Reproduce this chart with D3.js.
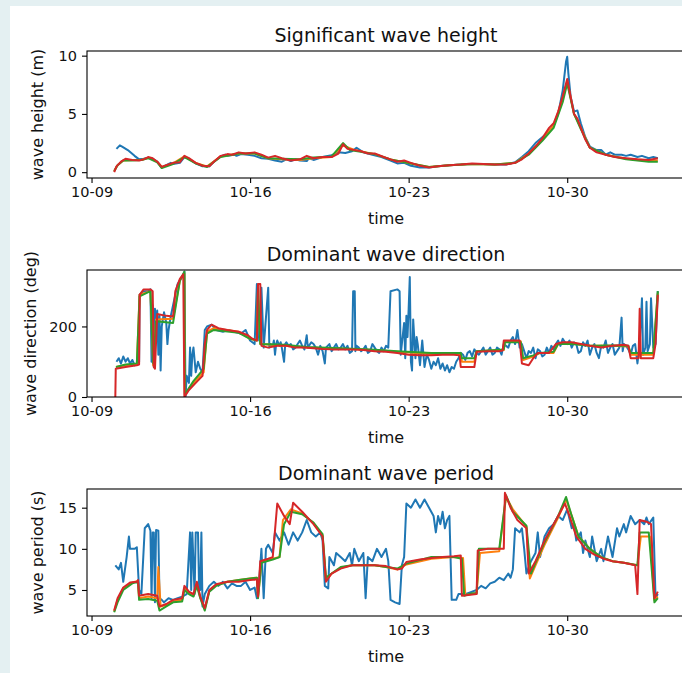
<!DOCTYPE html>
<html>
<head>
<meta charset="utf-8">
<script src="https://cdn.jsdelivr.net/npm/d3@7"></script>
<style>
  html, body { margin: 0; padding: 0; background: #e4f0f2; }
  #chart { position: absolute; left: 0; top: 0; }
  text { font-family: "DejaVu Sans", sans-serif; fill: #111; }
</style>
</head>
<body>
<div id="chart"></div>
<script>
// days since 10-10 00:00

// ---- significant wave height (m)
var heightBlue = [[0.1,2.0],[0.25,2.3],[0.35,2.2],[0.6,1.9],[0.9,1.4],[1.1,1.1],[1.3,1.15],[1.5,1.25],[1.7,1.15],[1.9,0.9],[2.1,0.4],[2.3,0.6],[2.5,0.8],[2.6,0.7],[2.9,0.8],[3.1,1.3],[3.3,1.15],[3.6,0.75],[3.9,0.5],[4.2,0.5],[4.4,0.9],[4.7,1.35],[4.9,1.5],[5.0,1.4],[5.3,1.5],[5.4,1.4],[5.6,1.55],[5.9,1.5],[6.2,1.4],[6.5,1.2],[6.8,1.15],[7.1,1.0],[7.4,0.9],[7.6,1.1],[7.8,0.95],[8.0,1.1],[8.2,1.0],[8.5,0.95],[8.6,1.2],[8.8,1.05],[9.2,1.3],[9.6,1.45],[9.9,1.7],[10.2,1.65],[10.5,1.8],[10.7,2.1],[11.0,1.7],[11.4,1.5],[11.8,1.3],[12.2,1.0],[12.5,0.75],[12.8,0.8],[13.1,0.55],[13.5,0.4],[13.9,0.4],[14.3,0.5],[14.8,0.6],[15.3,0.65],[15.8,0.7],[16.3,0.7],[16.8,0.65],[17.3,0.65],[17.7,0.85],[18.0,1.3],[18.3,1.8],[18.6,2.5],[18.9,3.0],[19.2,3.5],[19.4,4.0],[19.6,5.0],[19.8,7.0],[19.95,9.5],[20.0,9.9],[20.05,8.5],[20.15,6.5],[20.3,5.2],[20.45,5.3],[20.6,4.2],[20.8,3.0],[21.0,2.2],[21.3,1.9],[21.5,1.9],[21.7,1.5],[21.9,1.7],[22.1,1.5],[22.4,1.5],[22.6,1.4],[22.8,1.5],[23.1,1.3],[23.3,1.4],[23.6,1.2],[23.8,1.3],[24.0,1.2]];
var heightOrange = [[0,0.1],[0.15,0.6],[0.4,1.0],[0.8,1.05],[1.2,1.05],[1.5,1.25],[1.9,0.9],[2.1,0.45],[2.6,0.75],[3.1,1.35],[3.6,0.8],[4.1,0.5],[4.7,1.35],[5.5,1.6],[6.2,1.6],[6.8,1.2],[7.4,1.1],[8.2,1.05],[8.8,1.2],[9.6,1.3],[10.1,2.3],[10.6,1.9],[11.5,1.55],[12.2,1.1],[13.1,0.75],[13.9,0.45],[14.8,0.6],[15.8,0.7],[16.8,0.65],[17.7,0.8],[18.3,1.6],[18.9,2.8],[19.4,4.0],[19.8,6.3],[20.0,7.8],[20.3,5.0],[20.6,3.8],[21.0,2.1],[21.7,1.5],[22.6,1.15],[23.6,1.0],[24.0,1.0]];
var heightGreen = [[0,0.1],[0.15,0.6],[0.4,1.0],[0.8,1.0],[1.2,1.05],[1.5,1.2],[1.9,0.85],[2.1,0.35],[2.6,0.7],[3.1,1.3],[3.6,0.75],[4.1,0.45],[4.7,1.3],[5.5,1.6],[6.2,1.6],[6.8,1.2],[7.4,1.15],[8.2,1.1],[8.8,1.25],[9.6,1.35],[10.1,2.5],[10.4,1.9],[11.5,1.55],[12.2,1.1],[13.1,0.75],[13.9,0.45],[14.8,0.6],[15.8,0.7],[16.8,0.65],[17.7,0.8],[18.3,1.5],[18.9,2.7],[19.4,3.8],[19.8,6.0],[20.0,7.6],[20.3,5.0],[20.6,3.7],[21.0,2.1],[21.7,1.5],[22.6,1.1],[23.6,0.9],[24.0,0.9]];
var heightRed = [[0,0],[0.1,0.5],[0.3,0.9],[0.5,1.15],[0.8,1.05],[1.1,1.0],[1.3,1.1],[1.5,1.3],[1.7,1.2],[1.9,0.9],[2.1,0.45],[2.3,0.6],[2.6,0.8],[2.9,0.85],[3.1,1.4],[3.3,1.2],[3.6,0.8],[3.9,0.55],[4.2,0.5],[4.4,0.9],[4.7,1.4],[5.0,1.55],[5.2,1.5],[5.5,1.7],[5.8,1.6],[6.2,1.7],[6.5,1.5],[6.8,1.25],[7.1,1.4],[7.4,1.2],[7.8,1.0],[8.2,1.1],[8.5,1.4],[8.8,1.2],[9.2,1.3],[9.6,1.3],[9.9,1.6],[10.1,2.4],[10.3,2.0],[10.6,1.9],[10.9,1.8],[11.2,1.6],[11.5,1.6],[11.9,1.3],[12.2,1.1],[12.5,0.9],[12.8,1.0],[13.1,0.8],[13.5,0.55],[13.9,0.4],[14.3,0.5],[14.8,0.6],[15.3,0.65],[15.8,0.75],[16.3,0.7],[16.8,0.65],[17.3,0.65],[17.7,0.8],[18.0,1.1],[18.3,1.6],[18.6,2.2],[18.9,2.9],[19.2,3.8],[19.4,4.2],[19.6,5.2],[19.8,6.5],[20.0,8.0],[20.15,6.5],[20.3,5.0],[20.45,4.6],[20.6,3.8],[20.8,2.8],[21.0,2.1],[21.3,1.7],[21.7,1.5],[22.1,1.3],[22.6,1.2],[23.1,1.1],[23.6,1.05],[24.0,1.2]];

// ---- dominant wave direction (deg)
var dirBlue = [[0.1,100],[0.2,110],[0.3,95],[0.4,115],[0.5,100],[0.6,110],[0.7,95],[0.8,105],[0.9,90],[1.0,95],[1.1,100],[1.12,290],[1.3,300],[1.5,300],[1.6,305],[1.65,100],[1.7,260],[1.75,85],[1.8,250],[1.85,200],[1.9,245],[1.95,120],[2.0,230],[2.05,75],[2.1,200],[2.2,240],[2.3,210],[2.35,150],[2.4,190],[2.5,230],[2.6,260],[2.8,320],[3.0,340],[3.1,355],[3.15,0],[3.2,60],[3.3,40],[3.35,140],[3.4,60],[3.45,120],[3.5,140],[3.6,70],[3.7,100],[3.8,80],[3.9,70],[4.0,190],[4.1,200],[4.3,205],[4.5,190],[4.8,185],[5.0,190],[5.3,185],[5.6,180],[5.8,190],[5.9,175],[6.0,160],[6.2,150],[6.3,320],[6.4,160],[6.5,310],[6.6,140],[6.8,310],[6.85,140],[6.9,150],[7.0,145],[7.05,160],[7.1,120],[7.15,150],[7.2,160],[7.3,145],[7.35,155],[7.4,140],[7.5,100],[7.55,150],[7.6,155],[7.7,145],[7.8,150],[7.9,135],[8.0,140],[8.1,150],[8.2,160],[8.3,145],[8.4,135],[8.5,175],[8.55,140],[8.7,155],[8.8,150],[8.9,140],[9.0,120],[9.1,145],[9.2,130],[9.3,95],[9.35,140],[9.5,150],[9.6,130],[9.7,140],[9.8,150],[9.9,135],[10.0,140],[10.1,150],[10.2,135],[10.3,145],[10.4,125],[10.5,130],[10.55,300],[10.62,300],[10.65,130],[10.7,145],[10.8,140],[10.9,130],[11.0,135],[11.1,145],[11.2,125],[11.3,130],[11.4,150],[11.5,140],[11.6,130],[11.7,125],[11.8,140],[11.9,130],[12.0,145],[12.1,140],[12.2,300],[12.5,305],[12.6,300],[12.65,120],[12.8,210],[12.85,110],[12.9,230],[12.95,170],[13.0,250],[13.05,340],[13.1,100],[13.15,75],[13.2,220],[13.3,110],[13.35,170],[13.4,150],[13.5,90],[13.6,160],[13.7,85],[13.8,120],[13.9,105],[14.0,80],[14.1,100],[14.2,90],[14.3,110],[14.4,80],[14.5,95],[14.6,75],[14.7,90],[14.8,70],[14.9,85],[15.0,80],[15.1,100],[15.2,110],[15.3,125],[15.4,120],[15.5,105],[15.6,125],[15.7,130],[15.8,115],[15.9,135],[16.0,125],[16.1,120],[16.2,130],[16.3,140],[16.4,120],[16.5,130],[16.6,140],[16.7,120],[16.8,125],[16.9,140],[17.0,135],[17.1,120],[17.2,150],[17.3,145],[17.4,140],[17.5,160],[17.6,170],[17.7,150],[17.8,190],[17.9,140],[18.0,150],[18.1,130],[18.2,110],[18.3,130],[18.4,125],[18.5,140],[18.6,110],[18.7,135],[18.8,130],[18.9,115],[19.0,120],[19.1,140],[19.2,125],[19.3,145],[19.4,135],[19.5,150],[19.6,160],[19.7,145],[19.8,165],[19.9,155],[20.0,150],[20.1,160],[20.2,140],[20.3,155],[20.4,150],[20.5,125],[20.6,130],[20.7,155],[20.8,145],[20.9,160],[21.0,120],[21.1,140],[21.2,150],[21.3,125],[21.4,110],[21.5,145],[21.6,140],[21.7,160],[21.8,125],[21.9,140],[22.0,150],[22.1,120],[22.2,130],[22.3,140],[22.4,225],[22.45,130],[22.5,150],[22.6,145],[22.7,135],[22.8,120],[22.9,145],[23.0,150],[23.1,95],[23.2,150],[23.3,280],[23.35,120],[23.45,140],[23.5,270],[23.55,130],[23.65,150],[23.7,280],[23.8,140],[23.9,150],[24.0,300]];
var dirOrange = [[0.08,85],[0.5,90],[1.0,92],[1.12,290],[1.6,300],[1.72,90],[1.85,220],[2.6,222],[2.9,330],[3.1,350],[3.12,5],[3.5,40],[3.95,70],[4.1,185],[4.4,195],[5.5,185],[6.0,165],[6.3,160],[6.35,310],[6.45,150],[7.5,145],[8.5,140],[10.0,137],[11.5,133],[12.5,128],[14.0,122],[15.3,122],[15.35,100],[15.9,100],[16.0,130],[17.2,133],[17.25,158],[17.95,158],[18.05,105],[18.5,115],[18.8,125],[19.4,125],[19.6,150],[20.2,152],[21.0,145],[22.0,145],[22.7,143],[22.8,120],[23.8,120],[24.0,295]];
var dirGreen = [[0.08,85],[0.5,92],[1.0,95],[1.12,285],[1.6,300],[1.72,95],[1.85,215],[2.6,210],[2.9,330],[3.1,355],[3.12,8],[3.5,45],[3.95,80],[4.1,180],[4.4,190],[5.5,182],[6.0,165],[6.3,160],[6.35,310],[6.45,150],[7.5,148],[8.5,142],[10.0,138],[11.5,134],[12.5,130],[14.0,125],[15.3,125],[15.35,110],[15.9,110],[16.0,130],[17.2,135],[17.25,155],[17.95,155],[18.05,110],[18.5,118],[18.8,125],[19.4,128],[19.6,150],[20.2,150],[21.0,145],[22.0,146],[22.7,145],[22.8,125],[23.8,125],[24.0,300]];
var dirRed = [[0.05,0],[0.07,80],[0.5,85],[1.0,90],[1.1,92],[1.13,290],[1.3,305],[1.6,305],[1.7,300],[1.75,85],[1.8,80],[1.9,235],[2.3,230],[2.6,228],[2.7,300],[2.9,335],[3.05,348],[3.1,0],[3.3,20],[3.6,40],[3.9,60],[4.0,150],[4.1,190],[4.3,205],[4.6,195],[5.0,190],[5.5,185],[5.9,175],[6.1,165],[6.3,160],[6.35,320],[6.45,320],[6.5,145],[6.8,140],[7.2,145],[7.6,145],[8.0,140],[8.4,140],[8.8,138],[9.2,136],[9.6,135],[10.0,135],[10.5,135],[11.0,133],[11.5,130],[12.0,128],[12.5,125],[13.0,120],[13.5,118],[14.0,118],[14.5,120],[15.0,120],[15.25,118],[15.3,85],[15.9,85],[16.0,128],[16.5,130],[17.0,130],[17.15,132],[17.2,160],[17.9,160],[18.0,95],[18.3,90],[18.5,110],[18.7,125],[19.2,125],[19.5,150],[19.8,155],[20.2,155],[20.6,150],[21.0,145],[21.5,140],[22.0,145],[22.5,148],[22.7,145],[22.8,110],[23.15,110],[23.2,250],[23.25,110],[23.5,110],[23.8,110],[23.9,150],[24.0,290]];

// ---- dominant wave period (s)
var perBlue = [[0.05,8.0],[0.2,7.5],[0.3,8.3],[0.4,6.0],[0.55,9.0],[0.65,11.5],[0.7,10.0],[0.9,10.0],[1.0,10.2],[1.1,5.0],[1.2,4.5],[1.35,12.5],[1.5,13.0],[1.6,12.2],[1.65,4.0],[1.7,12.0],[1.75,12.0],[1.8,3.5],[1.85,12.3],[1.95,12.2],[2.0,4.0],[2.1,3.8],[2.2,3.5],[2.4,4.0],[2.6,3.8],[2.8,4.0],[3.0,4.2],[3.2,4.5],[3.35,12.0],[3.4,5.0],[3.45,12.0],[3.55,4.5],[3.6,12.0],[3.7,12.0],[3.75,5.0],[3.8,5.0],[3.85,12.0],[3.9,3.0],[4.0,4.5],[4.2,5.5],[4.4,6.0],[4.6,5.5],[4.8,6.0],[5.0,5.2],[5.2,5.8],[5.4,5.5],[5.6,5.5],[5.8,6.0],[6.0,5.0],[6.2,5.3],[6.3,4.0],[6.4,6.0],[6.5,10.0],[6.6,4.0],[6.7,10.0],[6.8,10.5],[7.0,9.5],[7.1,12.0],[7.3,11.0],[7.5,12.0],[7.7,10.5],[7.9,12.0],[8.1,11.0],[8.3,12.0],[8.5,13.5],[8.7,12.0],[8.9,11.5],[9.1,12.0],[9.2,11.0],[9.3,5.5],[9.45,5.2],[9.5,9.0],[9.7,8.0],[9.8,9.5],[10.0,9.0],[10.2,8.5],[10.4,9.5],[10.5,8.0],[10.6,10.0],[10.8,8.5],[11.0,9.5],[11.1,4.0],[11.2,9.0],[11.4,8.5],[11.6,10.0],[11.8,9.0],[12.0,10.0],[12.1,8.5],[12.2,3.8],[12.4,3.5],[12.6,3.3],[12.7,8.0],[12.8,9.0],[12.9,15.5],[13.1,15.0],[13.3,16.0],[13.5,15.0],[13.7,16.0],[13.9,15.0],[14.1,14.0],[14.2,12.0],[14.3,14.0],[14.4,13.0],[14.5,14.5],[14.6,12.5],[14.7,13.5],[14.8,14.0],[14.9,3.8],[15.1,3.8],[15.2,4.5],[15.5,4.5],[15.8,4.8],[16.0,5.0],[16.2,5.5],[16.4,5.2],[16.6,5.8],[16.8,6.0],[17.0,6.5],[17.2,6.2],[17.4,7.0],[17.5,6.5],[17.6,7.5],[17.7,12.5],[17.9,12.0],[18.0,12.5],[18.1,10.0],[18.2,7.0],[18.4,8.5],[18.6,9.5],[18.7,12.0],[18.8,9.0],[19.0,11.5],[19.2,12.5],[19.4,13.0],[19.6,14.0],[19.8,13.5],[20.0,14.8],[20.2,12.5],[20.3,13.0],[20.4,11.0],[20.6,12.0],[20.7,9.5],[20.8,11.0],[21.0,9.0],[21.1,11.5],[21.3,8.5],[21.5,10.0],[21.6,8.5],[21.8,11.5],[22.0,9.0],[22.2,12.5],[22.3,11.5],[22.5,13.0],[22.6,12.0],[22.8,14.0],[23.0,13.0],[23.2,13.5],[23.4,13.0],[23.5,13.8],[23.6,13.0],[23.8,13.8],[23.9,4.0],[24.0,4.5]];
var perOrange = [[0,2.4],[0.15,3.8],[0.4,5.2],[0.8,5.9],[1.05,6.1],[1.1,4.0],[1.5,4.2],[1.9,4.0],[1.95,7.8],[2.05,3.0],[2.3,3.2],[2.6,3.6],[3.0,3.8],[3.1,5.2],[3.3,4.6],[3.5,4.3],[3.65,5.8],[3.8,4.1],[4.0,2.7],[4.2,4.9],[4.5,5.6],[5.0,6.0],[5.5,6.2],[6.0,6.4],[6.3,6.5],[6.35,4.1],[6.5,8.4],[7.0,8.8],[7.3,9.0],[7.45,13.5],[7.8,14.8],[8.3,14.3],[8.8,13.1],[9.2,11.6],[9.35,6.2],[9.6,7.0],[10.0,7.7],[10.5,8.0],[11.5,8.0],[12.0,7.8],[12.5,7.5],[12.9,8.1],[14.0,8.8],[15.0,9.0],[15.4,8.9],[15.5,4.4],[16.0,4.6],[16.15,9.5],[17.0,9.7],[17.3,16.3],[17.6,14.8],[18.2,12.7],[18.35,6.4],[18.6,8.0],[19.0,10.5],[19.6,13.8],[19.95,16.0],[20.2,14.0],[20.5,11.5],[21.0,10.0],[21.5,9.0],[22.0,8.5],[22.5,8.3],[23.1,8.0],[23.25,11.5],[23.65,11.5],[23.85,3.8],[24.0,4.2]];
var perGreen = [[0,2.3],[0.15,3.5],[0.4,5.0],[0.8,5.8],[1.05,6.0],[1.1,3.8],[1.5,3.9],[1.9,3.7],[2.0,2.5],[2.3,3.0],[2.6,3.5],[3.0,3.6],[3.1,5.0],[3.3,4.5],[3.5,4.2],[3.65,5.5],[3.8,4.0],[4.0,2.5],[4.2,4.8],[4.5,5.5],[5.0,6.0],[5.5,6.2],[6.0,6.4],[6.3,6.5],[6.35,4.0],[6.5,8.3],[7.0,8.7],[7.3,9.0],[7.5,13.0],[7.8,14.5],[8.3,14.2],[8.8,13.2],[9.2,11.8],[9.35,6.5],[9.6,7.0],[10.0,7.8],[10.5,8.0],[11.5,8.0],[12.0,7.8],[12.5,7.6],[12.9,8.2],[14.0,9.0],[15.0,9.0],[15.35,8.8],[15.45,4.3],[15.8,4.6],[16.0,4.6],[16.1,10.0],[17.0,10.0],[17.3,16.5],[17.6,14.5],[18.2,12.8],[18.4,7.0],[18.6,8.3],[19.0,10.8],[19.6,14.0],[19.95,16.3],[20.2,14.0],[20.5,11.5],[21.0,10.0],[21.5,9.0],[22.0,8.5],[22.5,8.3],[23.1,8.0],[23.2,12.0],[23.6,12.0],[23.85,3.5],[24.0,4.0]];
var perRed = [[0,2.5],[0.15,4.0],[0.4,5.3],[0.7,5.9],[1.0,6.0],[1.05,6.2],[1.1,4.3],[1.5,4.5],[1.9,4.3],[2.0,3.0],[2.3,3.3],[2.6,3.8],[3.0,4.0],[3.1,5.5],[3.3,4.8],[3.5,4.5],[3.65,6.0],[3.8,4.2],[4.0,2.8],[4.2,5.0],[4.5,5.7],[5.0,6.0],[5.5,6.0],[6.0,6.2],[6.3,6.3],[6.35,4.2],[6.45,8.5],[6.8,8.8],[7.0,9.0],[7.2,15.5],[7.5,14.0],[7.75,13.0],[7.9,15.6],[8.3,14.5],[8.8,13.0],[9.2,11.5],[9.35,6.0],[9.6,7.0],[10.0,7.6],[10.5,8.0],[11.0,8.0],[11.5,8.0],[12.0,7.9],[12.5,7.5],[12.7,7.6],[12.9,8.4],[13.5,8.7],[14.0,8.9],[14.5,9.0],[15.0,9.1],[15.3,9.2],[15.35,4.3],[16.0,4.5],[16.05,9.8],[16.5,10.0],[17.0,10.0],[17.2,10.0],[17.25,16.8],[17.5,15.0],[17.8,13.5],[18.2,12.5],[18.3,7.0],[18.6,8.5],[19.0,11.0],[19.3,12.5],[19.6,14.0],[19.9,15.5],[20.1,14.0],[20.4,11.5],[20.8,10.0],[21.2,9.3],[21.6,8.8],[22.0,8.5],[22.5,8.3],[23.0,8.0],[23.1,4.5],[23.2,13.5],[23.5,13.3],[23.7,13.0],[23.85,4.0],[24.0,4.8]];

// tick labels
var timeTicks = ["10-09", "10-16", "10-23", "10-30"];
var heightTicks = [0, 5, 10];
var dirTicks = [0, 200];
var perTicks = [5, 10, 15];
var seriesColors = ["#1f77b4", "#ff7f0e", "#2ca02c", "#d62728"];

(function(){

  var W = 682, H = 673;
  var left = 87, right = 685, axH = 127;
  var tops = [51, 270, 489];

  var base = Date.UTC(2021, 9, 10);
  var dayMs = 864e5;
  function toDate(d) { return new Date(base + d * dayMs); }

  var panels = [
    {title: "Significant wave height", ylabel: "wave height (m)", ydom: [-0.5, 10.4], yticks: heightTicks, lx: 43,
     series: [heightBlue, heightOrange, heightGreen, heightRed]},
    {title: "Dominant wave direction", ylabel: "wave direction (deg)", ydom: [0, 360], yticks: dirTicks, lx: 36,
     series: [dirBlue, dirOrange, dirGreen, dirRed]},
    {title: "Dominant wave period", ylabel: "wave period (s)", ydom: [1.84, 17.27], yticks: perTicks, lx: 43,
     series: [perBlue, perOrange, perGreen, perRed]}
  ];

  var svg = d3.select("#chart").append("svg")
    .attr("width", W).attr("height", H);

  // white figure area over the light blue page
  svg.append("rect").attr("x", 10).attr("y", 6)
    .attr("width", W - 10).attr("height", H - 6).attr("fill", "#fff");

  var x = d3.scaleUtc()
    .domain([toDate(-1.2), toDate(25.2)])
    .range([left, right]);

  var xTickVals = timeTicks.map(function(t){
    var p = t.split("-");
    return new Date(Date.UTC(2021, +p[0] - 1, +p[1]));
  });

  panels.forEach(function(p, i){
    var top = tops[i];
    var y = d3.scaleLinear().domain(p.ydom).range([top + axH, top]);
    var g = svg.append("g");

    g.append("clipPath").attr("id", "clip" + i)
      .append("rect").attr("x", left).attr("y", top)
      .attr("width", right - left).attr("height", axH);

    var line = d3.line()
      .x(function(d){ return x(toDate(d[0])); })
      .y(function(d){ return y(d[1]); });

    g.append("g").attr("clip-path", "url(#clip" + i + ")")
      .selectAll("path").data(p.series).enter().append("path")
      .attr("d", line)
      .attr("fill", "none")
      .attr("stroke", function(d, k){ return seriesColors[k]; })
      .attr("stroke-width", 2)
      .attr("stroke-linejoin", "round");

    // axes
    var xAxis = d3.axisBottom(x).tickValues(xTickVals)
      .tickFormat(d3.utcFormat("%m-%d")).tickSize(5).tickPadding(4);
    var gx = g.append("g").attr("transform", "translate(0," + (top + axH) + ")").call(xAxis);
    var yAxis = d3.axisLeft(y).tickValues(p.yticks).tickSize(5).tickPadding(5);
    var gy = g.append("g").attr("transform", "translate(" + left + ",0)").call(yAxis);

    [gx, gy].forEach(function(a){
      a.select(".domain").remove();
      a.selectAll("line").attr("stroke", "#000").attr("stroke-width", 1.1);
      a.selectAll("text").attr("font-size", "14.5px").attr("font-family", "DejaVu Sans").attr("fill", "#111");
    });

    // frame
    g.append("rect").attr("x", left).attr("y", top)
      .attr("width", right - left).attr("height", axH)
      .attr("fill", "none").attr("stroke", "#000").attr("stroke-width", 1.1);

    g.append("text").attr("x", (left + right) / 2).attr("y", top - 9)
      .attr("text-anchor", "middle").attr("font-size", "19px").text(p.title);

    g.append("text").attr("x", (left + right) / 2).attr("y", top + axH + 46)
      .attr("text-anchor", "middle").attr("font-size", "16px").text("time");

    g.append("text")
      .attr("transform", "translate(" + p.lx + "," + (top + axH / 2) + ") rotate(-90)")
      .attr("text-anchor", "middle").attr("font-size", "16px").text(p.ylabel);
  });

})();
</script>
</body>
</html>
